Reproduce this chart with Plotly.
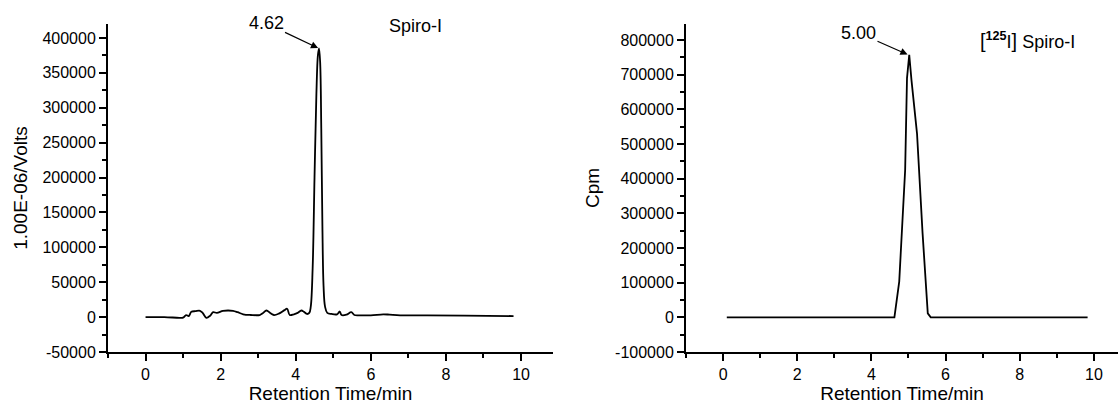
import plotly.graph_objects as go
from plotly.subplots import make_subplots

# ---- Left chromatogram (UV, Spiro-I) ----
uv_time = [0.0, 0.5, 0.9, 1.0, 1.08, 1.15, 1.22, 1.33, 1.45, 1.52, 1.62, 1.72, 1.80, 1.90, 2.06, 2.2, 2.33, 2.45, 2.6, 2.8,
           3.04, 3.12, 3.22, 3.32, 3.42, 3.55, 3.70, 3.77, 3.84, 3.95, 4.05, 4.15, 4.22, 4.30, 4.36, 4.40, 4.45, 4.50,
           4.55, 4.59, 4.62, 4.65, 4.68, 4.71, 4.74, 4.78, 4.84, 4.95, 5.1, 5.17, 5.22, 5.35, 5.48, 5.56, 5.7,
           6.0, 6.33, 6.5, 6.78, 7.5, 8.5, 9.8]
uv_signal = [0, 0, -1000, -800, 2900, 1500, 7600, 8500, 9000, 6000, -1000, 2000, 7000, 6000, 9000, 9500, 9000, 7000, 4000, 3000,
             3000, 5500, 9500, 6000, 3000, 5000, 10000, 12000, 3000, 4000, 6000, 9500, 7500, 4500, 6000, 15000, 70000, 200000,
             320000, 375000, 385000, 365000, 270000, 130000, 45000, 15000, 6000, 4500, 4000, 8000, 3000, 3500, 7000, 3000, 2500,
             2500, 4000, 3500, 2500, 2500, 2000, 1500]

# ---- Right chromatogram (radio, [125I]Spiro-I) ----
rad_time = [0.1, 4.62, 4.75, 4.91, 4.96, 5.02, 5.08, 5.23, 5.38, 5.52, 5.60, 9.83]
rad_cpm = [0, 0, 103000, 425000, 690000, 757000, 685000, 530000, 242000, 11500, 0, 0]

# ---- Tick labels ----
x_ticks = [0, 2, 4, 6, 8, 10]
left_y_ticks = [-50000, 0, 50000, 100000, 150000, 200000, 250000, 300000, 350000, 400000]
right_y_ticks = [-100000, 0, 100000, 200000, 300000, 400000, 500000, 600000, 700000, 800000]

FONT = "Liberation Sans, Arial, sans-serif"
TICK_SIZE = 16
TITLE_SIZE = 19
ANN_SIZE = 18

fig = make_subplots(rows=1, cols=2, horizontal_spacing=0.1)

fig.add_trace(go.Scatter(x=uv_time, y=uv_signal, mode="lines",
                         line=dict(color="black", width=1.8), line_shape="spline",
                         showlegend=False), row=1, col=1)
fig.add_trace(go.Scatter(x=rad_time, y=rad_cpm, mode="lines",
                         line=dict(color="black", width=1.8),
                         showlegend=False), row=1, col=2)

axis_common = dict(showline=True, linecolor="black", linewidth=2, ticks="outside", ticklen=7,
                   tickwidth=2, tickcolor="black", showgrid=False, zeroline=False,
                   tickfont=dict(family=FONT, size=TICK_SIZE, color="black"),
                   minor=dict(ticks="outside", ticklen=4, tickwidth=2, tickcolor="black", showgrid=False))

xtitle = dict(text="Retention Time/min", font=dict(family=FONT, size=TITLE_SIZE, color="black"), standoff=3)

fig.update_xaxes(**axis_common, range=[-1.0, 10.85], tickvals=x_ticks, ticktext=[str(v) for v in x_ticks],
                 title=xtitle, row=1, col=1)
fig.update_xaxes(**axis_common, range=[-1.0, 10.65], tickvals=x_ticks, ticktext=[str(v) for v in x_ticks],
                 title=xtitle, row=1, col=2)
fig.update_xaxes(minor=dict(dtick=1, tick0=0), domain=[0.0966, 0.4946], row=1, col=1)
fig.update_xaxes(minor=dict(dtick=1, tick0=0), domain=[0.6136, 1.0], row=1, col=2)

fig.update_yaxes(**axis_common, range=[-50000, 420000], tickvals=left_y_ticks,
                 ticktext=[str(v) for v in left_y_ticks],
                 title=dict(text="1.00E-06/Volts", font=dict(family=FONT, size=TITLE_SIZE, color="black"), standoff=10),
                 row=1, col=1)
fig.update_yaxes(minor=dict(dtick=25000, tick0=0), row=1, col=1)
fig.update_yaxes(**axis_common, range=[-100000, 846000], tickvals=right_y_ticks,
                 ticktext=[str(v) for v in right_y_ticks],
                 title=dict(text="Cpm", font=dict(family=FONT, size=TITLE_SIZE, color="black"), standoff=10),
                 row=1, col=2)
fig.update_yaxes(minor=dict(dtick=50000, tick0=0), row=1, col=2)

# annotations (peak labels with arrows)
fig.add_annotation(x=4.62, y=385000, xref="x", yref="y", text="4.62", showarrow=True,
                   ax=-53, ay=-25, arrowhead=2, arrowsize=1.2, arrowwidth=1.2, arrowcolor="black", standoff=1,
                   font=dict(family=FONT, size=ANN_SIZE, color="black"))
fig.add_annotation(x=7.2, y=385000, xref="x", yref="y", text="Spiro-I", showarrow=False,
                   yshift=22, font=dict(family=FONT, size=ANN_SIZE, color="black"))

fig.add_annotation(x=5.0, y=757000, xref="x2", yref="y2", text="5.00", showarrow=True,
                   ax=-50, ay=-22, arrowhead=2, arrowsize=1.2, arrowwidth=1.2, arrowcolor="black", standoff=1,
                   font=dict(family=FONT, size=ANN_SIZE, color="black"))
fig.add_annotation(x=8.2, y=757000, xref="x2", yref="y2",
                   text="<span style='font-size:20px'>[</span><sup><b>125</b></sup>I<span style='font-size:20px'>]</span> Spiro-I",
                   showarrow=False,
                   yshift=14, font=dict(family=FONT, size=ANN_SIZE, color="black"))

fig.update_layout(width=1118, height=404, plot_bgcolor="white", paper_bgcolor="white",
                  margin=dict(l=0, r=0, t=24, b=52), font=dict(family=FONT, color="black"))

fig.write_html("out.html", config={"displayModeBar": False},
               post_script="document.body.style.margin='0';")
